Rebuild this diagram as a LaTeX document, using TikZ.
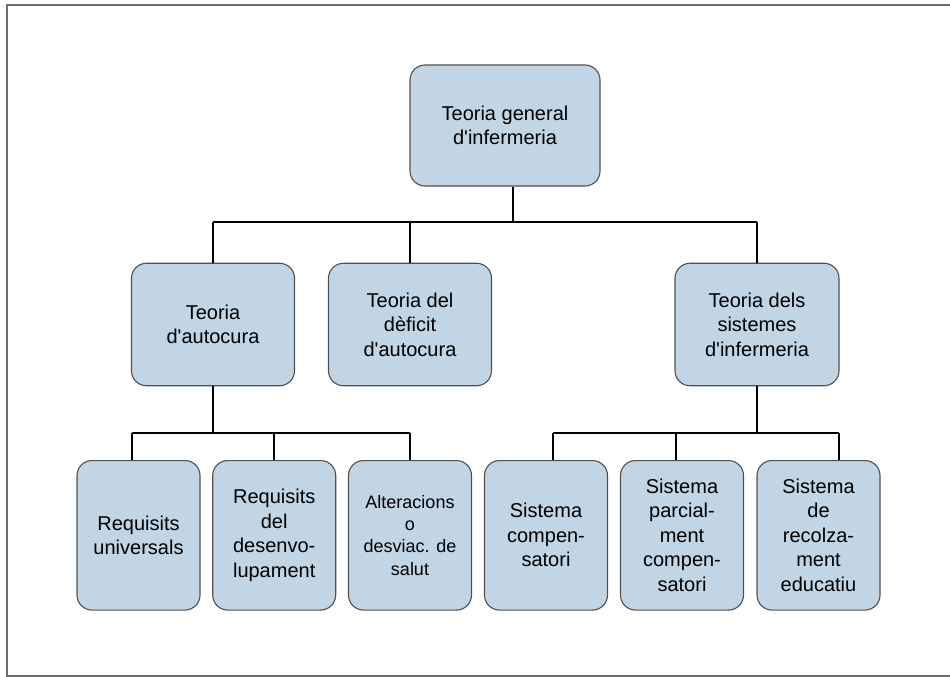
\documentclass[tikz,border=0pt]{standalone}
\usepackage{fontspec}
\setmainfont{Liberation Sans}
\newcommand\apos{{\XeTeXglyph\XeTeXcharglyph"0027\relax}}
\definecolor{boxfill}{RGB}{193,213,229}
\definecolor{boxline}{RGB}{80,80,80}
\definecolor{framegray}{RGB}{110,110,110}
\begin{document}
\begin{tikzpicture}[x=1pt,y=-1pt,
  box/.style={draw=boxline, line width=1.1pt, fill=boxfill, rounded corners=15pt,
    align=center, inner sep=0pt, font=\fontsize{20}{24.5}\selectfont},
  midbox/.style={box, minimum width=163pt, minimum height=122.5pt},
  lowbox/.style={box, minimum width=123pt, minimum height=149.5pt},
  conn/.style={draw=black, line width=2pt}]
\useasboundingbox (0,0) rectangle (950,677);
\fill[white] (0,0) rectangle (950,677);
\draw[framegray, line width=2pt] (6.5,5.5) rectangle (960,675.5);

\node[box, minimum width=190pt, minimum height=121pt] (top) at (505,125.5) {Teoria general\\d\apos infermeria};

\node[midbox] (auto) at (213,324.5) {Teoria\\d\apos autocura};
\node[midbox] (defi) at (410,324.5) {Teoria del\\dèficit\\d\apos autocura};
\node[midbox, minimum width=164pt] (sist) at (757,324.5) {Teoria dels\\sistemes\\d\apos infermeria};

\node[lowbox] (univ) at (138.5,535.3) {Requisits\\universals};
\node[lowbox] (dese) at (274.2,535.3) {Requisits\\del\\desenvo-\\lupament};
\node[lowbox, font=\fontsize{18}{22.3}\selectfont] (alte) at (410,535.3) {Alteracions\\o\\desviac. de\\salut};
\node[lowbox] (comp) at (546,535.3) {Sistema\\compen-\\satori};
\node[lowbox] (parc) at (682,535.3) {Sistema\\parcial-\\ment\\compen-\\satori};
\node[lowbox] (reco) at (818.5,535.3) {Sistema\\de\\recolza-\\ment\\educatiu};

% junction coordinates
\coordinate (j0) at (512.5,222);
\coordinate (jA) at (213,222);
\coordinate (jB) at (410,222);
\coordinate (jC) at (757,222);
\coordinate (k0) at (213,432.7);
\coordinate (k1) at (131.5,432.7);
\coordinate (k2) at (274.2,432.7);
\coordinate (k3) at (410,432.7);
\coordinate (m0) at (757,432.7);
\coordinate (m1) at (553,432.7);
\coordinate (m2) at (675.5,432.7);
\coordinate (m3) at (839,432.7);

\draw[conn] (top.south -| j0) -- (j0);
\draw[conn] (jA) -- (jC);
\draw[conn] (jA) -- (auto.north);
\draw[conn] (jB) -- (defi.north);
\draw[conn] (jC) -- (sist.north);

\draw[conn] (auto.south) -- (k0);
\draw[conn] (k1) -- (k3);
\draw[conn] (k1) -- (univ.north -| k1);
\draw[conn] (k2) -- (dese.north);
\draw[conn] (k3) -- (alte.north);

\draw[conn] (sist.south) -- (m0);
\draw[conn] (m1) -- (m3);
\draw[conn] (m1) -- (comp.north -| m1);
\draw[conn] (m2) -- (parc.north -| m2);
\draw[conn] (m3) -- (reco.north -| m3);
\end{tikzpicture}
\end{document}
